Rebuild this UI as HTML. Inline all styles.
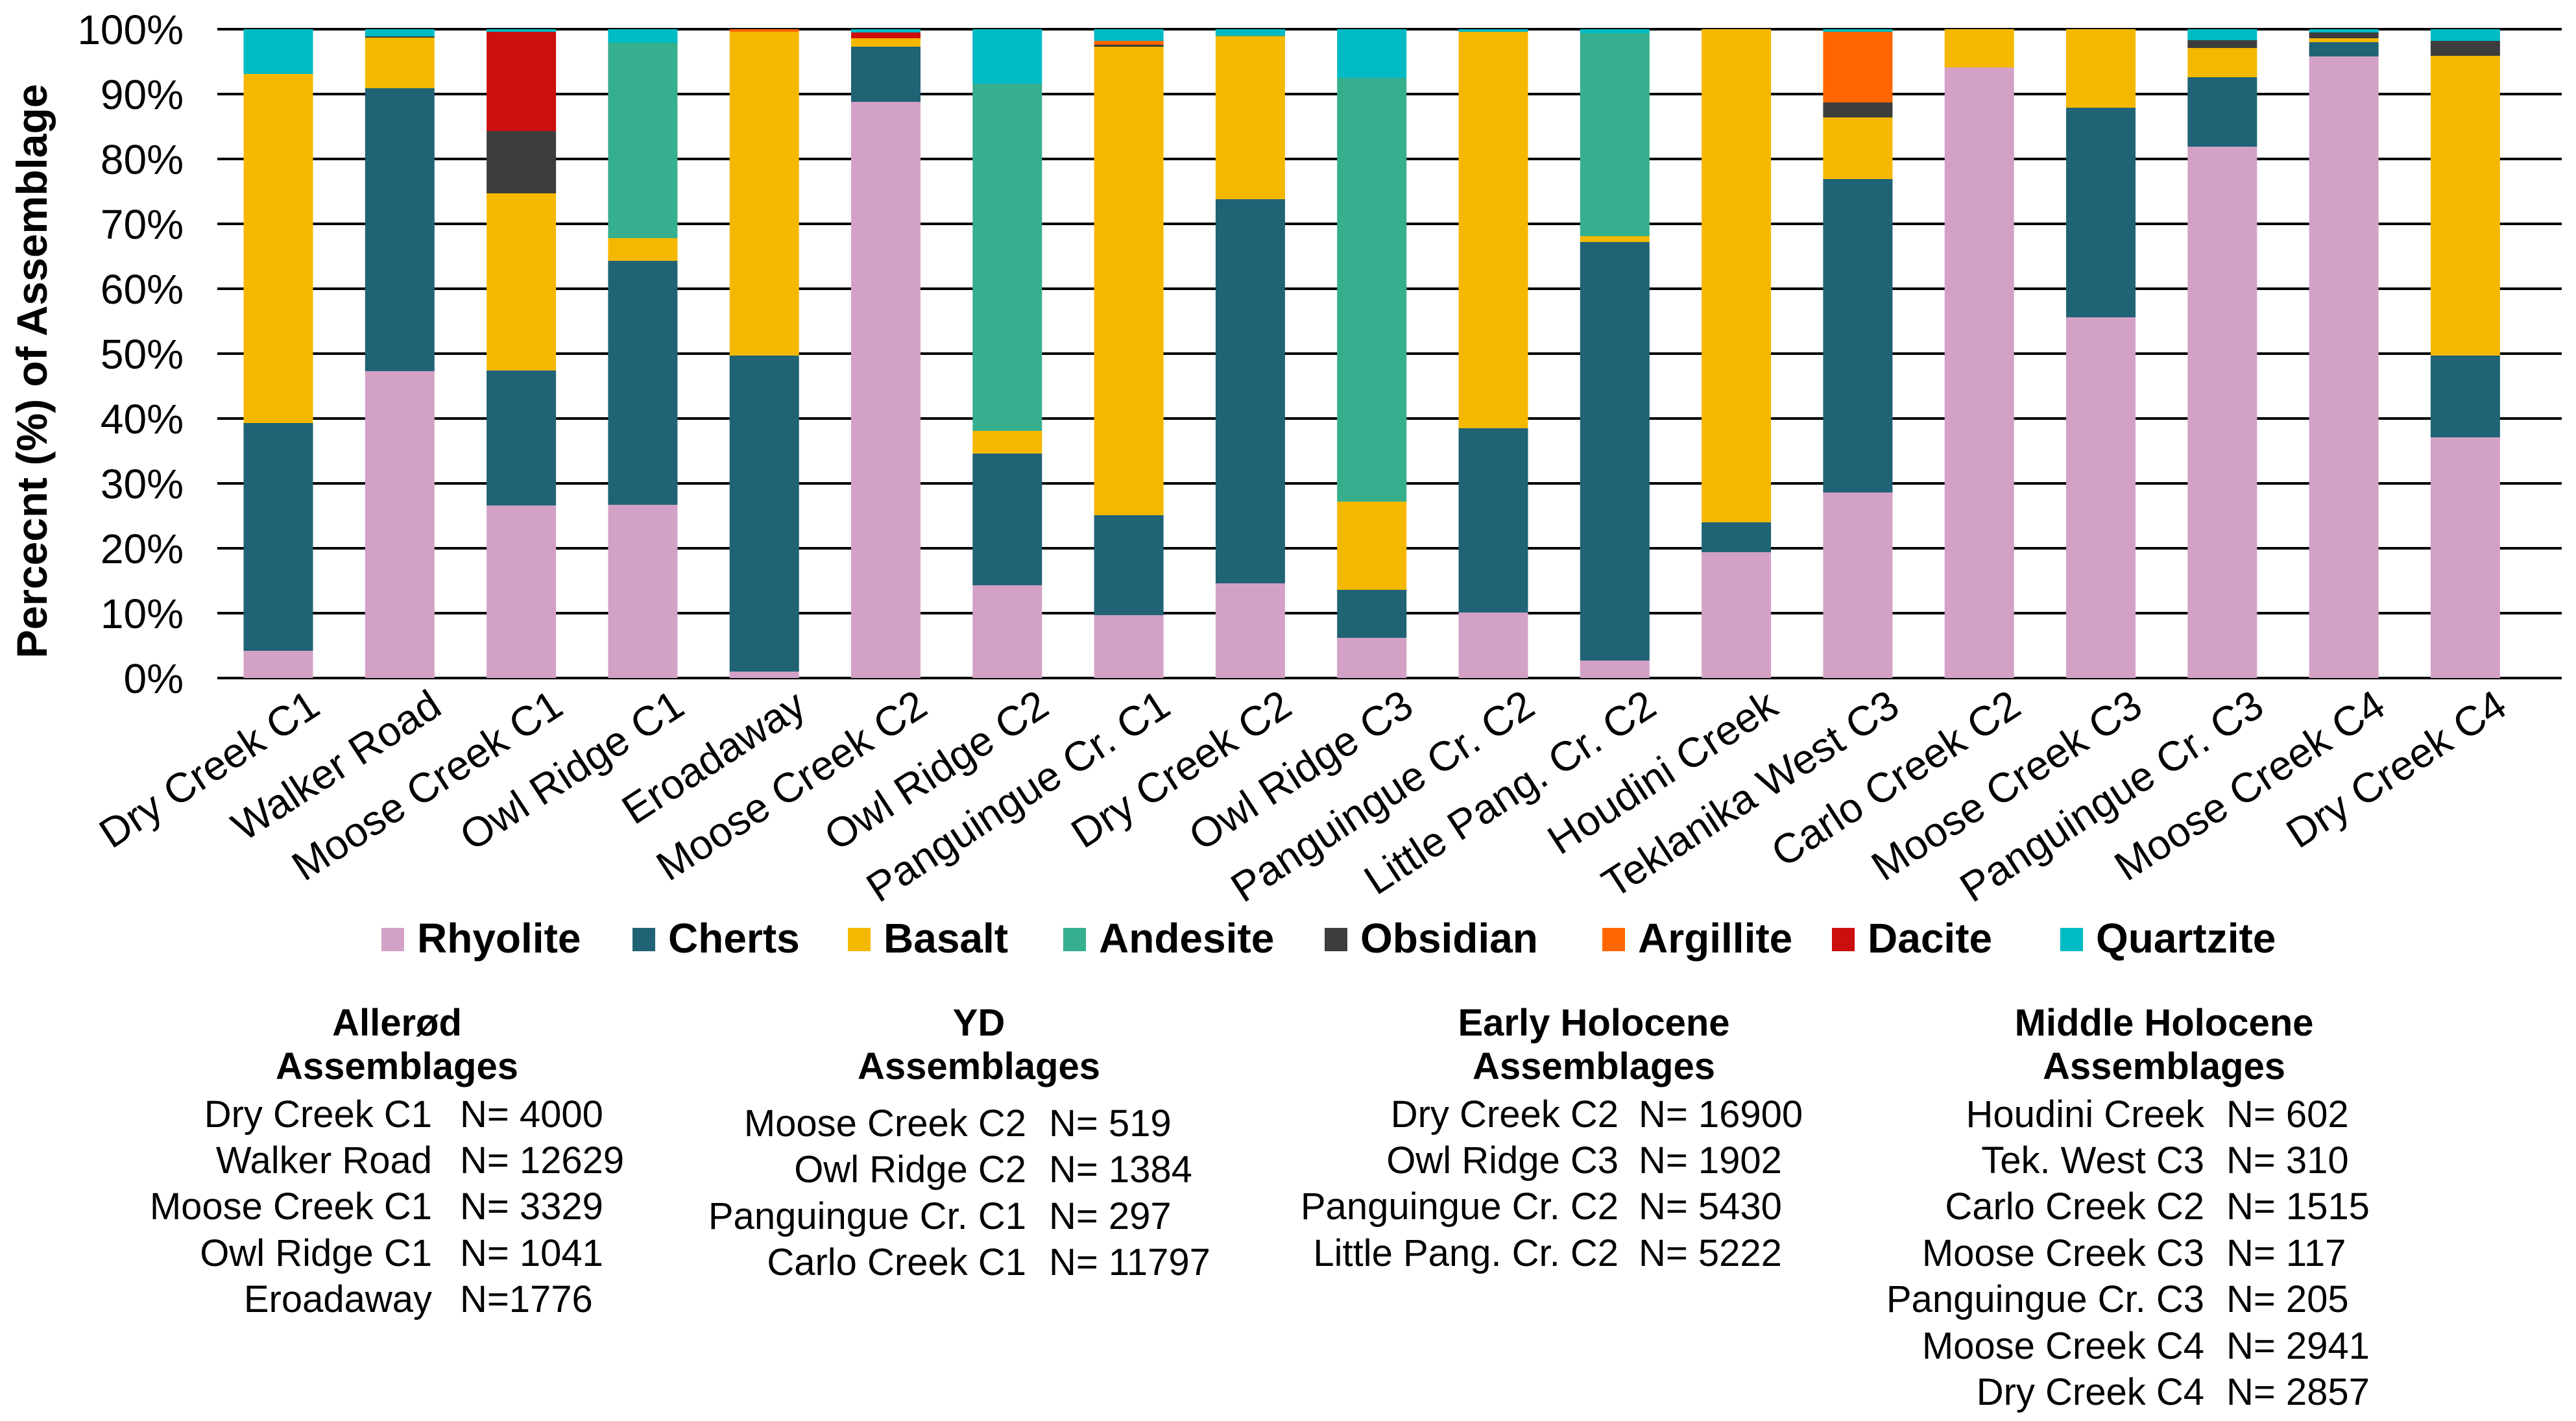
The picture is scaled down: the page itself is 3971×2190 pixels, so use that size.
<!DOCTYPE html>
<html><head><meta charset="utf-8">
<style>
html,body{margin:0;padding:0;background:#fff;}
svg{display:block;font-family:"Liberation Sans",Arial,sans-serif;}
</style></head>
<body>
<svg id="chart" width="3971" height="2190" viewBox="0 0 3971 2190" xmlns="http://www.w3.org/2000/svg">
<g id="grid"></g>
<g id="yticks"></g>
<g id="bars"></g>
<g id="xlabels"></g>
<text transform="translate(72,572) rotate(-90)" text-anchor="middle" font-size="66" font-weight="bold" fill="#000">Percecnt (%) of Assemblage</text>
<g id="legend"></g>

<g font-size="58" fill="#000">
<text x="612" y="1596" text-anchor="middle" font-weight="bold">Allerød</text>
<text x="612" y="1663" text-anchor="middle" font-weight="bold">Assemblages</text>
<text x="666" y="1737" text-anchor="end">Dry Creek C1</text><text x="709" y="1737">N= 4000</text>
<text x="666" y="1808" text-anchor="end">Walker Road</text><text x="709" y="1808">N= 12629</text>
<text x="666" y="1879" text-anchor="end">Moose Creek C1</text><text x="709" y="1879">N= 3329</text>
<text x="666" y="1951" text-anchor="end">Owl Ridge C1</text><text x="709" y="1951">N= 1041</text>
<text x="666" y="2022" text-anchor="end">Eroadaway</text><text x="709" y="2022">N=1776</text>
</g>
<g font-size="58" fill="#000">
<text x="1509" y="1596" text-anchor="middle" font-weight="bold">YD</text>
<text x="1509" y="1663" text-anchor="middle" font-weight="bold">Assemblages</text>
<text x="1582" y="1751" text-anchor="end">Moose Creek C2</text><text x="1617" y="1751">N= 519</text>
<text x="1582" y="1822" text-anchor="end">Owl Ridge C2</text><text x="1617" y="1822">N= 1384</text>
<text x="1582" y="1894" text-anchor="end">Panguingue Cr. C1</text><text x="1617" y="1894">N= 297</text>
<text x="1582" y="1965" text-anchor="end">Carlo Creek C1</text><text x="1617" y="1965">N= 11797</text>
</g>
<g font-size="58" fill="#000">
<text x="2457" y="1596" text-anchor="middle" font-weight="bold">Early Holocene</text>
<text x="2457" y="1663" text-anchor="middle" font-weight="bold">Assemblages</text>
<text x="2495" y="1737" text-anchor="end">Dry Creek C2</text><text x="2526" y="1737">N= 16900</text>
<text x="2495" y="1808" text-anchor="end">Owl Ridge C3</text><text x="2526" y="1808">N= 1902</text>
<text x="2495" y="1879" text-anchor="end">Panguingue Cr. C2</text><text x="2526" y="1879">N= 5430</text>
<text x="2495" y="1951" text-anchor="end">Little Pang. Cr. C2</text><text x="2526" y="1951">N= 5222</text>
</g>
<g font-size="58" fill="#000">
<text x="3336" y="1596" text-anchor="middle" font-weight="bold">Middle Holocene</text>
<text x="3336" y="1663" text-anchor="middle" font-weight="bold">Assemblages</text>
<text x="3398" y="1737" text-anchor="end">Houdini Creek</text><text x="3432" y="1737">N= 602</text>
<text x="3398" y="1808" text-anchor="end">Tek. West C3</text><text x="3432" y="1808">N= 310</text>
<text x="3398" y="1879" text-anchor="end">Carlo Creek C2</text><text x="3432" y="1879">N= 1515</text>
<text x="3398" y="1951" text-anchor="end">Moose Creek C3</text><text x="3432" y="1951">N= 117</text>
<text x="3398" y="2022" text-anchor="end">Panguingue Cr. C3</text><text x="3432" y="2022">N= 205</text>
<text x="3398" y="2094" text-anchor="end">Moose Creek C4</text><text x="3432" y="2094">N= 2941</text>
<text x="3398" y="2165" text-anchor="end">Dry Creek C4</text><text x="3432" y="2165">N= 2857</text>
</g>
</svg>
<script>
const categories = ["Dry Creek C1","Walker Road","Moose Creek C1","Owl Ridge C1","Eroadaway","Moose Creek C2","Owl Ridge C2","Panguingue Cr. C1","Dry Creek C2","Owl Ridge C3","Panguingue Cr. C2","Little Pang. Cr. C2","Houdini Creek","Teklanika West C3","Carlo Creek C2","Moose Creek C3","Panguingue Cr. C3","Moose Creek C4","Dry Creek C4"];
const seriesNames = ["Rhyolite","Cherts","Basalt","Andesite","Obsidian","Argillite","Dacite","Quartzite"];
const seriesColors = ["#D4A1C6","#1F6375","#F5B800","#36AF8E","#3D3D3D","#FF6600","#CC0E0E","#00BAC4"];
const rhyolite  = [4.2,47.3,26.6,26.7,1.0,88.8,14.3,9.7,14.6,6.2,10.1,2.7,19.4,28.6,94.1,55.6,81.9,95.8,37.1];
const cherts    = [35.1,43.6,20.8,37.6,48.7,8.5,20.3,15.4,59.2,7.4,28.4,64.5,4.6,48.3,0,32.3,10.7,2.2,12.6];
const basalt    = [53.8,7.8,27.3,3.5,49.9,1.3,3.5,72.2,25.1,13.6,61.1,0.9,76.0,9.5,5.9,12.1,4.5,0.6,46.2];
const andesite  = [0,0,0,30.1,0,0,53.5,0,0.2,65.3,0,31.3,0,0,0,0,0,0,0];
const obsidian  = [0,0.2,9.6,0,0,0,0,0.3,0,0,0,0,0,2.3,0,0,1.2,0.9,2.3];
const argillite = [0,0,0,0,0.4,0,0,0.6,0,0,0,0,0,10.9,0,0,0,0,0];
const dacite    = [0,0,15.3,0,0,0.9,0,0,0,0,0,0,0,0,0,0,0,0,0];
const quartzite = [6.9,1.1,0.4,2.1,0,0.5,8.4,1.8,0.9,7.5,0.4,0.6,0,0.4,0,0,1.7,0.5,1.8];
const yTicks = [0,10,20,30,40,50,60,70,80,90,100];
const yTickLabels = ["0%","10%","20%","30%","40%","50%","60%","70%","80%","90%","100%"];

const NS = "http://www.w3.org/2000/svg";
const series = [rhyolite,cherts,basalt,andesite,obsidian,argillite,dacite,quartzite];
const plotLeft = 335, plotRight = 3949, yTop = 45, yBottom = 1045;
const firstCenter = 429, step = 187.3, barW = 107;
function yScale(v){ return yBottom - (v/100)*(yBottom-yTop); }
function xScale(i){ return firstCenter + i*step; }

const grid = document.getElementById('grid');
const yt = document.getElementById('yticks');
yTicks.forEach((t,k)=>{
  const y = yScale(t);
  const l = document.createElementNS(NS,'line');
  
  
  l.setAttribute('x1',plotLeft); l.setAttribute('x2',plotRight);
  l.setAttribute('y1',y); l.setAttribute('y2',y);
  l.setAttribute('stroke','#000'); l.setAttribute('stroke-width','4');
  grid.appendChild(l);
  const tx = document.createElementNS(NS,'text');
  
  
  tx.setAttribute('x',283); tx.setAttribute('y',y+23);
  tx.setAttribute('text-anchor','end'); tx.setAttribute('font-size','64');
  tx.textContent = yTickLabels[k];
  yt.appendChild(tx);
});

const bars = document.getElementById('bars');
categories.forEach((c,i)=>{
  let cum = 0;
  series.forEach((s,j)=>{
    const v = s[i];
    if (v <= 0) return;
    const r = document.createElementNS(NS,'rect');
    
    
    r.setAttribute('x', xScale(i)-barW/2);
    r.setAttribute('width', barW);
    r.setAttribute('y', yScale(cum+v));
    r.setAttribute('height', yScale(cum)-yScale(cum+v));
    r.setAttribute('fill', seriesColors[j]);
    bars.appendChild(r);
    cum += v;
  });
});

const xl = document.getElementById('xlabels');
categories.forEach((c,i)=>{
  const t = document.createElementNS(NS,'text');
  
  
  const ax = xScale(i)+68, ay = 1098;
  t.setAttribute('transform','translate('+ax+','+ay+') rotate(-33)');
  t.setAttribute('text-anchor','end');
  t.setAttribute('font-size','64');
  t.textContent = c;
  xl.appendChild(t);
});

const legendX = [588,975,1307,1639,2042,2470,2824,3176];
const lg = document.getElementById('legend');
seriesNames.forEach((n,j)=>{
  const r = document.createElementNS(NS,'rect');
  
  
  r.setAttribute('x',legendX[j]); r.setAttribute('y',1430);
  r.setAttribute('width',35); r.setAttribute('height',36);
  r.setAttribute('fill',seriesColors[j]);
  lg.appendChild(r);
  const t = document.createElementNS(NS,'text');
  
  
  t.setAttribute('x',legendX[j]+55); t.setAttribute('y',1468);
  t.setAttribute('font-size','64'); t.setAttribute('font-weight','bold');
  t.textContent = n;
  lg.appendChild(t);
});
</script>
</body></html>
